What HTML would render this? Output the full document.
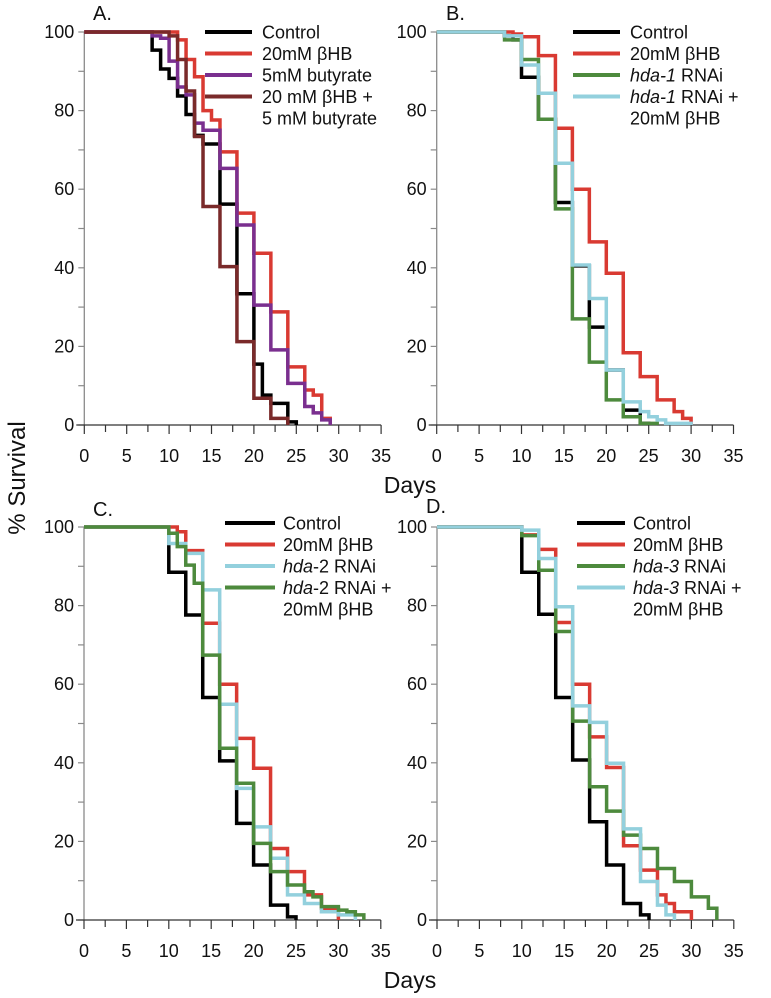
<!DOCTYPE html>
<html><head><meta charset="utf-8"><style>
html,body{margin:0;padding:0;background:#fff;}
svg{display:block;font-family:"Liberation Sans",Arial,sans-serif;}
</style></head>
<body>
<svg id="chart" width="771" height="998" viewBox="0 0 771 998"></svg>
<script>
// Panel A
const aControlT=[8,9,10,11,12,13,14,16,18,20,21,22,24,25];
const aControlS=[95.4,90.6,88.2,83.7,79,73.7,71.5,56.2,33.4,15.5,7.6,5.5,0.8,0];
const aBhbT=[11,12,13,14,15,16,18,20,22,24,26,27,28,29];
const aBhbS=[98,93,88.6,80,77.6,69.5,53.9,43.7,28.8,14.8,8.9,7.6,1.7,0];
const aButT=[8,9,10,11,12,13,14,16,18,20,22,24,26,27,28,29];
const aButS=[99,98.4,92.6,86,84,76.8,75,65.3,50.9,30.5,19.1,10.6,4.7,3.1,1.3,0];
const aComboT=[10,11,12,13,14,16,18,20,22,24];
const aComboS=[99,93,85,73.4,55.6,40.3,21.2,6.8,1.7,0];
// Panel B
const bControlT=[8,9,10,12,14,16,18,20,22,24,25];
const bControlS=[99,98,88.5,77.8,56.6,40.5,24.9,14,3.8,0.4,0];
const bBhbT=[9,10,12,14,16,18,20,22,24,26,28,29,30];
const bBhbS=[99.5,98.8,94,75.5,60,46.6,38.6,18.4,12.3,6.4,3.4,1.7,0];
const bHdaT=[8,10,12,14,16,18,20,22,24,26];
const bHdaS=[98,93,77.8,55,27,16,6.4,2.1,0.4,0];
const bComboT=[8,10,12,14,16,18,20,22,24,25,26,27,30];
const bComboS=[99,91.6,84.4,66.6,40.7,32.2,14,5.9,3.4,2.1,1.3,0.4,0];
// Panel C
const cControlT=[10,12,14,16,18,20,22,24,25];
const cControlS=[88.5,77.6,56.6,40.5,24.6,14,3.8,0.8,0];
const cBhbT=[11,12,14,16,18,20,22,24,26,28,30];
const cBhbS=[98.8,94,75.5,60,46.2,38.6,18.2,12.3,6.4,3,0];
const cHdaT=[10,12,14,16,18,20,22,24,26,28,30,32];
const cHdaS=[95.8,93.3,84,54.9,33.5,23.7,15.7,6.4,4.2,2.1,1.3,0];
const cComboT=[10,11,12,13,14,16,18,20,22,24,26,27,28,30,31,32,33];
const cComboS=[98.4,95,90.3,85.7,67.4,43.7,34.8,19.5,12.3,8.9,7.2,5.9,3.4,2.5,2.1,1.3,0];
// Panel D
const dControlT=[10,12,14,16,18,20,22,24,25];
const dControlS=[88.5,77.8,56.6,40.7,25,14,4.2,1.3,0];
const dBhbT=[10,12,14,16,18,20,22,24,26,27,28,30];
const dBhbS=[98,94.3,75.7,60,46.6,38.8,18.9,12.7,6.4,4.2,2.1,0];
const dHdaT=[10,12,14,16,18,20,22,24,26,28,30,32,33];
const dHdaS=[97.8,89,73.4,50.6,33.9,27.7,21.6,18.2,13.1,9.8,5.9,3,0];
const dComboT=[10,12,14,16,18,20,22,24,26,27,28];
const dComboS=[99.2,92,79.7,54.5,50.3,39.9,23.2,9.8,3.8,1.3,0];

const xTickLabels=["0","5","10","15","20","25","30","35"];
const yTickLabels=["0","20","40","60","80","100"];

const C={black:"#000",red:"#d93a32",purple:"#7a2f8f",brown:"#7a2a2a",green:"#4d8a3d",blue:"#93d0dd"};
const NS="http://www.w3.org/2000/svg";
const svg=document.getElementById('chart');
function el(tag,attrs,parent){const e=document.createElementNS(NS,tag);for(const k in attrs)e.setAttribute(k,attrs[k]);(parent||svg).appendChild(e);return e;}

const panels=[
 {id:"a",label:"A.",x0:84.3,y0:425,lx:[205,252,262],ly:32,lblX:93,lblY:20,
  series:[["control",aControlT,aControlS,C.black],["bhb",aBhbT,aBhbS,C.red],["butyrate",aButT,aButS,C.purple],["bhb-butyrate",aComboT,aComboS,C.brown]],
  legend:[["Control",C.black],["20mM βHB",C.red],["5mM butyrate",C.purple],["20 mM βHB +",C.brown,"5 mM butyrate"]]},
 {id:"b",label:"B.",x0:436.7,y0:425,lx:[573,620,630],ly:32,lblX:446,lblY:20,
  series:[["control",bControlT,bControlS,C.black],["bhb",bBhbT,bBhbS,C.red],["hda1",bHdaT,bHdaS,C.green],["hda1-bhb",bComboT,bComboS,C.blue]],
  legend:[["Control",C.black],["20mM βHB",C.red],["|hda-1| RNAi",C.green],["|hda-1| RNAi +",C.blue,"20mM βHB"]]},
 {id:"c",label:"C.",x0:84,y0:920,lx:[225,275,283],ly:523,lblX:93,lblY:516,
  series:[["control",cControlT,cControlS,C.black],["bhb",cBhbT,cBhbS,C.red],["hda2",cHdaT,cHdaS,C.blue],["hda2-bhb",cComboT,cComboS,C.green]],
  legend:[["Control",C.black],["20mM βHB",C.red],["|hda|-2 RNAi",C.blue],["|hda|-2 RNAi +",C.green,"20mM βHB"]]},
 {id:"d",label:"D.",x0:437,y0:920,lx:[577,625,633],ly:523,lblX:426,lblY:513,
  series:[["control",dControlT,dControlS,C.black],["bhb",dBhbT,dBhbS,C.red],["hda3",dHdaT,dHdaS,C.green],["hda3-bhb",dComboT,dComboS,C.blue]],
  legend:[["Control",C.black],["20mM βHB",C.red],["|hda-3| RNAi",C.green],["|hda-3| RNAi +",C.blue,"20mM βHB"]]}
];
const XS=8.48, YS=3.93;

function addRich(t,str){
  const parts=str.split("|");
  parts.forEach((p,i)=>{if(!p)return;const s=el('tspan',{},t);if(i%2===1)s.setAttribute('font-style','italic');s.textContent=p;});
}

panels.forEach(p=>{
  const g=el('g',{});
  
  
  const X=d=>p.x0+d*XS, Y=v=>p.y0-v*YS;
  // y axis
  const ya=el('line',{x1:X(0),y1:Y(100),x2:X(0),y2:Y(0),stroke:"#8a8a8a","stroke-width":1.3},g);
  
  
  for(let v=0;v<=100;v+=10){el('line',{x1:X(0)-6,y1:Y(v),x2:X(0),y2:Y(v),stroke:"#8a8a8a","stroke-width":1.2},g);}
  yTickLabels.forEach(l=>{
    const t=el('text',{x:X(0)-10,y:Y(+l)+6,"text-anchor":"end","font-size":18,fill:"#111"},g);
    
    
    t.textContent=l;
  });
  // x axis
  const xa=el('line',{x1:X(0)-8,y1:Y(0),x2:X(35),y2:Y(0),stroke:"#333","stroke-width":1.2},g);
  
  
  for(let d=0;d<=35;d+=2.5){el('line',{x1:X(d),y1:Y(0),x2:X(d),y2:Y(0)+(d%5===0?9:7),stroke:"#333","stroke-width":1.2},g);}
  xTickLabels.forEach(l=>{
    const t=el('text',{x:X(+l),y:Y(0)+37,"text-anchor":"middle","font-size":18,fill:"#111"},g);
    
    
    t.textContent=l;
  });
  // series
  p.series.forEach(s=>{
    const [name,T,S,col]=s;
    let d="M"+X(0)+","+Y(100);
    for(let i=0;i<T.length;i++){d+=" H"+X(T[i])+" V"+Y(S[i]);}
    const path=el('path',{d:d,fill:"none",stroke:col,"stroke-width":3.5,"stroke-linejoin":"miter"},g);
    
    
  });
  // legend
  p.legend.forEach((e,i)=>{
    const y=p.ly+i*21.5;
    const lg=el('g',{},g);
    
    
    el('line',{x1:p.lx[0],y1:y,x2:p.lx[1],y2:y,stroke:e[1],"stroke-width":4},lg);
    const t=el('text',{x:p.lx[2],y:y+6.5,"font-size":18,fill:"#111"},lg);
    addRich(t,e[0]);
    if(e[2]){const t2=el('text',{x:p.lx[2],y:y+6.5+21.5,"font-size":18,fill:"#111"},lg);t2.textContent=e[2];}
  });
  const lbl=el('text',{x:p.lblX,y:p.lblY,"font-size":20,fill:"#111"},g);
  
  
  lbl.textContent=p.label;
});

const d1=el('text',{x:410,y:493,"text-anchor":"middle","font-size":23,fill:"#111"});


d1.textContent="Days";
const d2=el('text',{x:410,y:988,"text-anchor":"middle","font-size":23,fill:"#111"});


d2.textContent="Days";
const yt=el('text',{x:0,y:0,"text-anchor":"middle","font-size":24,fill:"#111",transform:"translate(25,478) rotate(-90)"});


yt.textContent="% Survival";
</script>
</body></html>
